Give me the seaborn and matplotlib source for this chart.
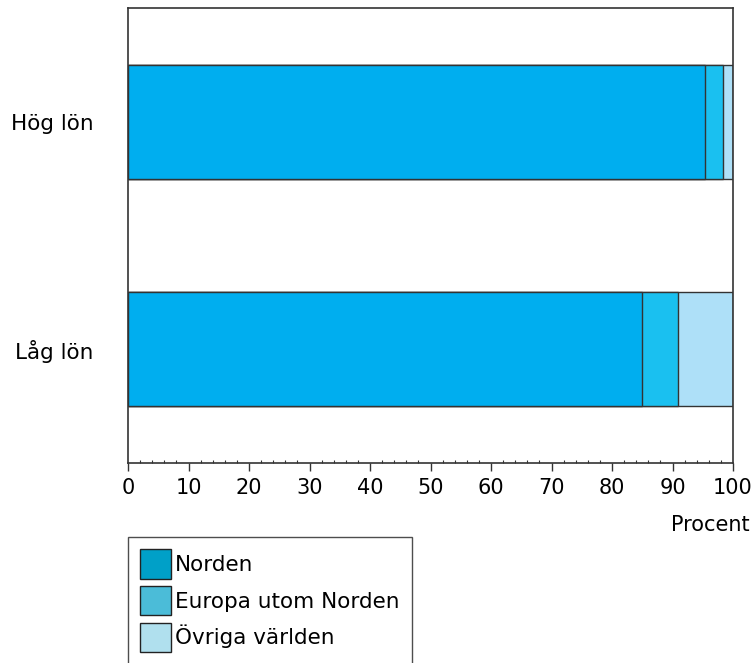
import numpy as np
import pandas as pd
import seaborn as sns
from matplotlib import pyplot as plt
from matplotlib.patches import Patch
from matplotlib.ticker import MultipleLocator

categories = ["Hög lön", "Låg lön"]
norden = [95.4, 84.9]
europa = [2.9, 6.0]
ovriga = [1.7, 9.1]
series = ["Norden", "Europa utom Norden", "Övriga världen"]

bar_colors = ["#00aeef", "#1ac0f0", "#aee0f8"]
legend_colors = ["#00a0c8", "#4bbcd8", "#b0e0ee"]

df = pd.DataFrame({"kategori": categories, "Norden": norden,
                   "Europa": europa, "Ovriga": ovriga})
df["c1"] = df["Norden"]
df["c2"] = df["Norden"] + df["Europa"]
df["c3"] = df["c2"] + df["Ovriga"]

sns.set_style("white")
plt.rcParams["font.family"] = ["DejaVu Sans"]
plt.rcParams["text.color"] = "black"
plt.rcParams["xtick.color"] = "black"
plt.rcParams["ytick.color"] = "black"
plt.rcParams["axes.labelcolor"] = "black"

fig = plt.figure(figsize=(7.56, 6.63), dpi=100)
ax = fig.add_axes([128/756, 1-463/663, 605/756, 455/663])

# stacked bars: draw the cumulative totals back to front
for col, c in zip(["c3", "c2", "c1"], bar_colors[::-1]):
    sns.barplot(data=df, x=col, y="kategori", orient="h", color=c,
                width=0.5, edgecolor="#333333", linewidth=1, ax=ax,
                saturation=1)

ax.set_xlim(0, 100)
ax.set_ylim(1.5, -0.5)
ax.xaxis.set_major_locator(MultipleLocator(10))
ax.xaxis.set_minor_locator(MultipleLocator(2))
ax.tick_params(axis="x", which="major", direction="out", length=6, width=1,
               labelsize=15, color="#333333", bottom=True, pad=5)
ax.tick_params(axis="x", which="minor", direction="in", length=2, width=0.8,
               color="#333333", bottom=True)
ax.tick_params(axis="y", length=0, labelsize=15.5, pad=25)
for s in ax.spines.values():
    s.set_color("#333333")
    s.set_linewidth(1.2)
ax.set_ylabel("")
ax.set_xlabel("Procent", fontsize=15, ha="right", va="center")
ax.xaxis.set_label_coords((750 - 128) / 605, (463 - 525) / 455)

handles = [Patch(facecolor=c, edgecolor="#222222", linewidth=1) for c in legend_colors]
leg = fig.legend(handles, series, loc="upper left",
                 bbox_to_anchor=(128/756, 1-537/663), borderaxespad=0,
                 frameon=True, fancybox=False, fontsize=15.5,
                 handlelength=1.45, handleheight=1.75, handletextpad=0.2,
                 labelspacing=0.33, borderpad=0.55)
leg.get_frame().set_edgecolor("#222222")
leg.get_frame().set_linewidth(1)

plt.savefig("out.png", dpi=100)
